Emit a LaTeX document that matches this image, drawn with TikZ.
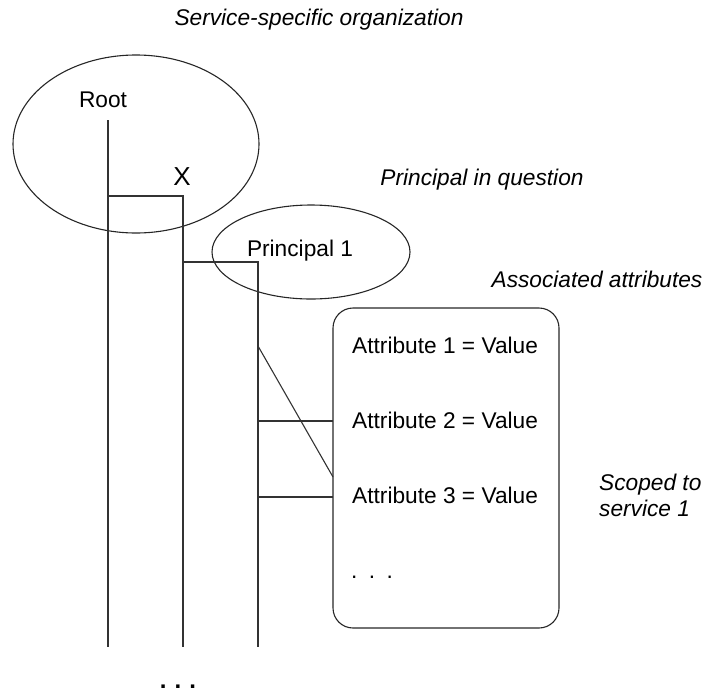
\documentclass[tikz,border=0pt]{standalone}
\usepackage{fontspec}
\setmainfont{Liberation Sans}
\usetikzlibrary{shapes.geometric}
\begin{document}
\begin{tikzpicture}[x=1pt,y=-1pt,
  ln/.style={draw=black!80,line width=1.1pt},
  txt/.style={inner sep=0pt,font=\fontsize{22.7}{26}\selectfont},
  itxt/.style={inner sep=0pt,font=\fontsize{22.7}{26}\selectfont\itshape},
  oval/.style={ellipse,draw=black!85,line width=1.1pt,inner sep=0pt}]
\useasboundingbox (0,0) rectangle (707,694);
% ellipses
\node[oval,minimum width=246pt,minimum height=178pt] (org) at (136,144) {};
\node[oval,minimum width=198pt,minimum height=94pt] (prin) at (311,252) {};
% attribute box
\node[draw=black!85,line width=1.1pt,rounded corners=20pt,minimum width=226pt,minimum height=320pt,inner sep=0pt] (box) at (446,468) {};
% texts
\node[txt] (root) at (103,100) {Root};
\node[txt,font=\fontsize{26}{30}\selectfont] (xlab) at (182,177) {X};
\node[txt] (p1) at (300,251) {Principal 1};
\node[txt,anchor=west] (a1) at (352,345) {Attribute 1 = Value};
\node[txt,anchor=west] (a2) at (352,420) {Attribute 2 = Value};
\node[txt,anchor=west] (a3) at (352,495) {Attribute 3 = Value};
\node[txt,anchor=west] (adots) at (351,577) {.\,\,\,.\,\,\,.};
\node[txt,font=\fontsize{24}{28}\selectfont\bfseries] (bdots) at (178,687) {.\,\,.\,\,.};
\node[itxt] (l1) at (319,20) {Service-specific organization};
\node[itxt] (l2) at (482,180) {Principal in question};
\node[itxt] (l3) at (597,279) {Associated attributes};
\node[itxt,anchor=west,align=left] (l4) at (599,495) {Scoped to\\service 1};
% tree lines
\coordinate (t1) at (108,120);
\coordinate (b1) at (108,647);
\coordinate (h1) at (108,196);
\coordinate (t2) at (183,196);
\coordinate (b2) at (183,647);
\coordinate (h2) at (183,262);
\coordinate (t3) at (258,262);
\coordinate (b3) at (258,647);
\coordinate (d1) at (258,346);
\coordinate (d2) at (333,477);
\coordinate (s2) at (258,421);
\coordinate (e2) at (333,421);
\coordinate (s3) at (258,497);
\coordinate (e3) at (333,497);
\draw[ln] (t1) -- (b1);
\draw[ln] (h1) -- (t2) -- (b2);
\draw[ln] (h2) -- (t3) -- (b3);
\draw[ln] (d1) -- (d2);
\draw[ln] (s2) -- (e2);
\draw[ln] (s3) -- (e3);
\end{tikzpicture}
\end{document}
